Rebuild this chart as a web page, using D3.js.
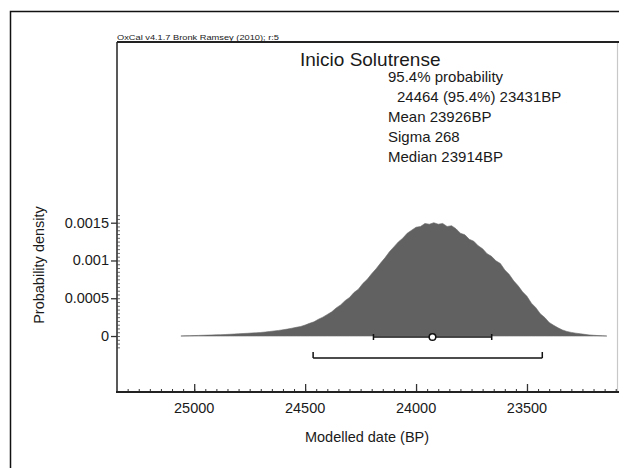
<!DOCTYPE html>
<html><head><meta charset="utf-8">
<script src="https://cdn.jsdelivr.net/npm/d3@7"></script>
<style>
html,body{margin:0;padding:0;background:#fff;}
svg{display:block;}
text{font-family:"Liberation Sans",Arial,sans-serif;fill:#1a1a1a;}
</style></head>
<body>
<svg id="c" width="619" height="468"></svg>
<script>
// ---- data ----
const years = [25060,25040,25020,25000,24980,24960,24940,24920,24900,24880,24860,24840,24820,24800,24780,24760,24740,24720,24700,24680,24660,24640,24620,24600,24580,24560,24540,24520,24500,24480,24460,24440,24420,24400,24380,24360,24340,24320,24300,24280,24260,24240,24220,24200,24180,24160,24140,24120,24100,24080,24060,24040,24020,24000,23980,23960,23940,23920,23900,23880,23860,23840,23820,23800,23780,23760,23740,23720,23700,23680,23660,23640,23620,23600,23580,23560,23540,23520,23500,23480,23460,23440,23420,23400,23380,23360,23340,23320,23300,23280,23260,23240,23220,23200,23180,23160,23140];
const density = [0,0.000002,0.000004,0.000006,0.000008,0.00001,0.000012,0.000014,0.000016,0.000018,0.00002,0.000023,0.000026,0.00003,0.000033,0.000036,0.00004,0.000043,0.000047,0.000053,0.00006,0.000067,0.000074,0.000082,0.000092,0.000103,0.000115,0.000126,0.000145,0.000168,0.000188,0.000222,0.00025,0.000285,0.00032,0.000372,0.000412,0.000468,0.00051,0.000575,0.00062,0.000695,0.00075,0.000825,0.00089,0.000965,0.001035,0.001115,0.00118,0.001245,0.001295,0.00136,0.0014,0.00144,0.00145,0.00149,0.00148,0.0015,0.00148,0.00149,0.00145,0.00146,0.00142,0.00136,0.00134,0.00128,0.001255,0.001195,0.001155,0.00109,0.001055,0.000995,0.00096,0.000875,0.000815,0.00073,0.000665,0.000585,0.000525,0.000435,0.000375,0.000295,0.000245,0.00018,0.000142,0.000108,0.00008,0.00006,0.000048,0.000038,0.00003,0.000022,0.000015,0.00001,0.000006,0.000003,0];
const xTicks = [25000,24500,24000,23500];
const yTicks = [0,0.0005,0.001,0.0015];
const yTickLabels = ["0","0.0005","0.001","0.0015"];
const range68 = [24192,23659];
const range95 = [24464,23431];
const meanBP = 23926;
const title = "Inicio Solutrense";
const infoLines = ["95.4% probability","24464 (95.4%) 23431BP","Mean 23926BP","Sigma 268","Median 23914BP"];
const credit = "OxCal v4.1.7 Bronk Ramsey (2010); r:5";

// ---- drawing ----
const svg = d3.select("#c");
const L=117, R=617.5, T=42, B=392;
const x = d3.scaleLinear().domain([25348,23092]).range([L,R]);
const y = d3.scaleLinear().domain([-0.000741,0.003892]).range([B,T]);

// outer frame
svg.append("path").attr("d",`M10.5,468 V11.5 H619`).attr("fill","none").attr("stroke","#111").attr("stroke-width",1.5);

// plot frame
svg.append("line").attr("x1",R).attr("x2",R).attr("y1",T).attr("y2",B).attr("stroke","#c8c8c8").attr("stroke-width",1.2);
svg.append("line").attr("x1",L).attr("x2",619).attr("y1",T).attr("y2",T).attr("stroke","#222").attr("stroke-width",1.8);
svg.append("line").attr("x1",L).attr("x2",L).attr("y1",T).attr("y2",B).attr("stroke","#222").attr("stroke-width",1.5);

// distribution
const pts = years.map((yr,i)=>[yr,density[i]]);
svg.append("path").datum(pts)
  .attr("d", d3.area().x(d=>x(d[0])).y0(y(0)).y1(d=>y(d[1])).curve(d3.curveLinear))
  .attr("fill","#616161").attr("stroke","#6a6a6a").attr("stroke-width",0.6);

// x axis
const xAxisG = svg.append("g").attr("transform",`translate(0,${B})`);
xAxisG.call(d3.axisTop(x).tickValues(d3.range(25300,23090,-50)).tickSize(3).tickFormat(""))
  .call(g=>g.select(".domain").remove())
  .call(g=>g.selectAll("line").attr("stroke","#333"));
xAxisG.append("g").call(d3.axisTop(x).tickValues(xTicks).tickSize(8).tickFormat(""))
  .call(g=>g.select(".domain").remove())
  .call(g=>g.selectAll("line").attr("stroke","#333").attr("stroke-width",1.3));
svg.append("line").attr("x1",L-1).attr("x2",619).attr("y1",B).attr("y2",B).attr("stroke","#222").attr("stroke-width",1.8);
svg.append("g").selectAll("text").data(xTicks).join("text")
  .attr("x",d=>x(d)).attr("y",B+21).attr("text-anchor","middle").attr("font-size","14.5px").text(d=>d);

// y axis
const yAxisG = svg.append("g").attr("transform",`translate(${L},0)`);
yAxisG.call(d3.axisRight(y).tickValues(d3.range(-0.00015,0.00161,0.00005)).tickSize(3).tickFormat(""))
  .call(g=>g.select(".domain").remove())
  .call(g=>g.selectAll("line").attr("stroke","#444").attr("stroke-width",0.8));
yAxisG.append("g").call(d3.axisLeft(y).tickValues(yTicks).tickSize(6).tickFormat(""))
  .call(g=>g.select(".domain").remove())
  .call(g=>g.selectAll("line").attr("stroke","#333").attr("stroke-width",1.3));
svg.append("g").selectAll("text").data(yTicks).join("text")
  .attr("x",L-8).attr("y",d=>y(d)+5).attr("text-anchor","end").attr("font-size","14.5px")
  .text((d,i)=>yTickLabels[i]);

// ranges
function bar(r, yy){
  const g = svg.append("g").attr("stroke","#111").attr("stroke-width",1.5).attr("fill","none");
  g.append("line").attr("x1",x(r[0])).attr("x2",x(r[1])).attr("y1",yy).attr("y2",yy);
  return g;
}
const g68 = bar(range68, y(0)+1);
range68.forEach(v=>g68.append("line").attr("x1",x(v)).attr("x2",x(v)).attr("y1",y(0)-2).attr("y2",y(0)+4));
g68.append("circle").attr("cx",x(meanBP)).attr("cy",y(0)+1).attr("r",3.3).attr("fill","#fff");
const y95 = 358;
const g95 = bar(range95, y95);
range95.forEach(v=>g95.append("line").attr("x1",x(v)).attr("x2",x(v)).attr("y1",y95-6).attr("y2",y95));

// texts
svg.append("text").attr("x",L).attr("y",40).attr("font-size","7.5px").attr("textLength",162).attr("lengthAdjust","spacingAndGlyphs").text(credit);
svg.append("text").attr("x",300).attr("y",66).attr("font-size","19px").text(title);
const infoX = [388,397,388,388,388];
const infoY = [82,102,122,142,162];
svg.append("g").selectAll("text").data(infoLines).join("text")
  .attr("x",(d,i)=>infoX[i]).attr("y",(d,i)=>infoY[i]).attr("font-size","15px").text(d=>d);
svg.append("text").attr("transform","translate(44,265) rotate(-90)").attr("text-anchor","middle").attr("font-size","14.5px").text("Probability density");
svg.append("text").attr("x",367).attr("y",442).attr("text-anchor","middle").attr("font-size","14.5px").text("Modelled date (BP)");
</script>
</body></html>
